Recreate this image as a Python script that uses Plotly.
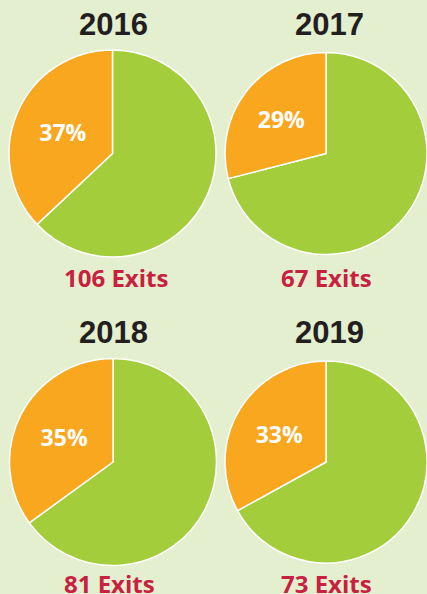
import plotly.graph_objects as go

# data
years = ["2016", "2017", "2018", "2019"]
share_pct = [37, 29, 35, 33]      # orange slice share
exits = [106, 67, 81, 73]

ORANGE = "#f9a71f"
GREEN = "#a3cd3a"
BG = "#e3efcf"
CRIMSON = "#c8203f"
DARK = "#231f20"

W, H = 427, 594

# pie boxes in pixels: (left, top, size)
boxes = [(9, 50, 207), (225, 52.5, 202), (9.5, 358.5, 207), (225, 361, 202)]
title_pos = [(113, 25), (329, 25), (113, 332), (329, 333)]
exit_pos = [(116, 277.5), (326, 277.5), (109, 583), (326, 583)]

fig = go.Figure()

for i, yr in enumerate(years):
    left, top, size = boxes[i]
    # green first, drawn clockwise from 12 o'clock, so orange ends up on the left
    fig.add_trace(go.Pie(
        values=[100 - share_pct[i], share_pct[i]],
        labels=["Other", "Share"],
        text=["", f"{share_pct[i]}%"],
        textinfo="text",
        textposition="inside",
        insidetextorientation="horizontal",
        textfont=dict(family="Open Sans", size=23, color="white", weight="bold"),
        marker=dict(colors=[GREEN, ORANGE], line=dict(color="white", width=1.5)),
        sort=False,
        direction="clockwise",
        rotation=0,
        hoverinfo="skip",
        showlegend=False,
        domain=dict(x=[left / W, min((left + size) / W, 1)],
                    y=[1 - (top + size) / H, 1 - top / H]),
    ))

    tx, ty = title_pos[i]
    fig.add_annotation(
        text=f"<b>{yr}</b>", x=tx / W, y=1 - ty / H, xref="paper", yref="paper",
        showarrow=False, xanchor="center", yanchor="middle",
        font=dict(family="Liberation Sans", size=31, color=DARK),
    )
    ex, ey = exit_pos[i]
    fig.add_annotation(
        text=f"<b>{exits[i]} Exits</b>", x=ex / W, y=1 - ey / H, xref="paper", yref="paper",
        showarrow=False, xanchor="center", yanchor="middle",
        font=dict(family="Open Sans", size=24, color=CRIMSON),
    )

fig.update_layout(
    width=W, height=H,
    margin=dict(l=0, r=0, t=0, b=0),
    paper_bgcolor=BG, plot_bgcolor=BG,
)

fig.write_html(
    "out.html",
    config={"displayModeBar": False},
    post_script="document.body.style.margin='0';document.body.style.overflow='hidden';",
)
